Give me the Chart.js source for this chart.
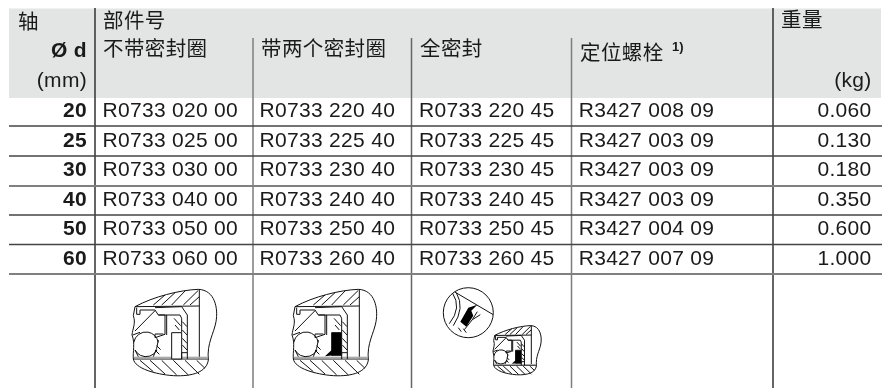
<!DOCTYPE html>
<html>
<head>
<meta charset="utf-8">
<script src="https://cdn.jsdelivr.net/npm/chart.js@4"></script>
<style>
    html, body { margin: 0; padding: 0; background: #fff; }
    canvas { display: block; }
</style>
</head>
<body>
<canvas id="chart" width="882" height="388"></canvas>
<script>
// Table contents
const shaftSizes = ['20', '25', '30', '40', '50', '60'];
const plainParts = ['R0733 020 00', 'R0733 025 00', 'R0733 030 00', 'R0733 040 00', 'R0733 050 00', 'R0733 060 00'];
const twoSealParts = ['R0733 220 40', 'R0733 225 40', 'R0733 230 40', 'R0733 240 40', 'R0733 250 40', 'R0733 260 40'];
const fullSealParts = ['R0733 220 45', 'R0733 225 45', 'R0733 230 45', 'R0733 240 45', 'R0733 250 45', 'R0733 260 45'];
const screwParts = ['R3427 008 09', 'R3427 003 09', 'R3427 003 09', 'R3427 003 09', 'R3427 004 09', 'R3427 007 09'];
const weights = ['0.060', '0.130', '0.180', '0.350', '0.600', '1.000'];

const FONT_LATIN = '"Liberation Sans", Arial, sans-serif';
const FONT_CJK = '"Noto Sans CJK SC", sans-serif';
const DARK = '#333333';
const GREY = '#7d7d7d';

// Axis units are page pixels, so layout can be read straight off the scales
const colX = [102.5, 259.6, 419, 578.7];
const headX = [103, 261, 420, 580];
const rowY = [111.5, 141.5, 170.5, 200.5, 229.5, 259.5];

function rule(x1, y1, x2, y2, color, width) {
    return {
        type: 'scatter', showLine: true, pointRadius: 0,
        data: [{ x: x1, y: y1 }, { x: x2, y: y2 }],
        borderColor: color, borderWidth: width
    };
}

const datasets = [
    // grey header band
    {
        type: 'line', pointRadius: 0, borderWidth: 0,
        data: [{ x: 9, y: 98 }, { x: 881, y: 98 }],
        fill: { value: 8.5 }, backgroundColor: '#e3e4e4', order: 5
    },
    rule(9, 126, 882, 126, '#444444', 1.5),
    rule(9, 156, 882, 156, '#444444', 1.5),
    rule(9, 186, 882, 186, '#808080', 2),
    rule(9, 215, 882, 215, '#444444', 1.5),
    rule(9, 244.5, 882, 244.5, '#444444', 1.5),
    rule(9, 274, 882, 274, '#808080', 2),
    rule(95, 8, 95, 388, DARK, 1.5),
    rule(253, 38, 253, 388, GREY, 1.5),
    rule(411.5, 38, 411.5, 388, '#666666', 1.5),
    rule(571.5, 38, 571.5, 388, GREY, 1.5),
    rule(773, 8, 773, 388, DARK, 1.5)
];

function drawText(chart, text, x, y, opts) {
    const ctx = chart.ctx;
    const o = opts || {};
    const spacing = o.spacing === undefined ? 0.3 : o.spacing;
    ctx.save();
    ctx.font = (o.bold ? 'bold ' : '') + (o.size || 21) + 'px ' + (o.cjk ? FONT_CJK : FONT_LATIN);
    ctx.letterSpacing = spacing + 'px';
    ctx.fillStyle = o.color || '#1a1a1a';
    ctx.textAlign = o.right ? 'right' : 'left';
    ctx.textBaseline = 'middle';
    ctx.fillText(text, chart.scales.x.getPixelForValue(x), chart.scales.y.getPixelForValue(y));
    ctx.restore();
}

// Cross-section sketch, in units of a third of a pixel from its own origin
function drawBearing(ctx, ox, oy, scale, blackSeal) {
    ctx.save();
    ctx.translate(ox, oy);
    ctx.scale(scale / 3, scale / 3);
    ctx.strokeStyle = '#111';
    ctx.lineWidth = 3 / scale;
    ctx.lineJoin = 'round';

    const line = pts => {
        ctx.beginPath();
        pts.forEach((p, i) => i ? ctx.lineTo(p[0], p[1]) : ctx.moveTo(p[0], p[1]));
        ctx.stroke();
    };

    // outer break outline
    ctx.beginPath();
    ctx.moveTo(135, 155);
    ctx.bezierCurveTo(190, 125, 270, 105, 325, 103);
    ctx.bezierCurveTo(375, 105, 385, 160, 378, 200);
    ctx.bezierCurveTo(372, 235, 350, 265, 355, 315);
    ctx.bezierCurveTo(350, 350, 310, 365, 250, 362);
    ctx.bezierCurveTo(195, 358, 135, 340, 130, 312);
    ctx.bezierCurveTo(128, 290, 136, 265, 126, 240);
    ctx.bezierCurveTo(128, 220, 138, 205, 130, 182);
    ctx.lineTo(135, 155);
    ctx.stroke();

    // housing, shaft and end walls
    line([[135, 155], [328, 153]]);
    line([[328, 104], [328, 312]]);
    line([[130, 312], [355, 312]]);
    ctx.fillStyle = '#aaa';
    ctx.fillRect(132, 305, 222, 6);

    // hatching, top
    [[190, 150, 225, 120], [215, 150, 255, 113], [245, 150, 285, 108], [280, 150, 325, 106], [300, 150, 328, 125]].forEach(l => line([[l[0], l[1]], [l[2], l[3]]]));
    // hatching, bottom
    [[150, 316, 190, 350], [180, 316, 225, 357], [215, 316, 260, 360], [250, 316, 295, 360], [285, 316, 328, 358], [320, 316, 345, 340]].forEach(l => line([[l[0], l[1]], [l[2], l[3]]]));

    // ball, only the parts that show between the races
    ctx.beginPath();
    ctx.arc(168, 268, 37, Math.PI * 1.05, Math.PI * 1.95);
    ctx.stroke();
    ctx.beginPath();
    ctx.arc(168, 268, 37, Math.PI * 0.15, Math.PI * 0.85);
    ctx.stroke();

    // outer race
    line([[140, 158], [140, 178], [150, 178], [150, 165], [195, 165], [205, 180], [225, 180], [225, 238], [195, 248], [195, 237], [220, 237]]);
    line([[230, 180], [230, 240]]);
    line([[135, 228], [195, 167]]);
    line([[195, 158], [275, 155], [292, 180], [292, 312]]);
    line([[205, 180], [270, 180], [275, 190], [275, 233]]);

    // inner race
    line([[128, 240], [150, 232]]);
    line([[205, 255], [200, 280], [190, 305]]);
    line([[135, 285], [145, 305]]);
    [[195, 285, 208, 298], [200, 272, 212, 284]].forEach(l => line([[l[0], l[1]], [l[2], l[3]]]));

    // seal housing hatching
    [[277, 200, 291, 215], [277, 225, 291, 240], [277, 250, 291, 265], [277, 270, 291, 285], [252, 190, 272, 212], [255, 210, 268, 225]].forEach(l => line([[l[0], l[1]], [l[2], l[3]]]));

    // seal
    ctx.fillStyle = blackSeal ? '#000' : '#fff';
    ctx.fillRect(245, 233, 30, blackSeal ? 68 : 79);
    ctx.strokeRect(245, 233, 30, blackSeal ? 68 : 79);
    line([[275, 293], [292, 293]]);
    line([[275, 293], [275, 312]]);
    if (blackSeal) {
        ctx.beginPath();
        ctx.moveTo(225, 304);
        ctx.lineTo(245, 285);
        ctx.lineTo(250, 301);
        ctx.closePath();
        ctx.fill();
    }
    ctx.restore();
}

// Enlarged detail circle above the full-seal sketch
function drawDetail(ctx, cx, cy, r) {
    ctx.save();
    ctx.strokeStyle = '#111';
    ctx.lineWidth = 1;
    ctx.beginPath();
    ctx.arc(cx, cy, r, 0, Math.PI * 2);
    ctx.stroke();
    ctx.clip();
    ctx.beginPath();
    ctx.moveTo(cx - 14, cy - 21);
    ctx.lineTo(cx + 25, cy + 2);
    ctx.moveTo(cx - 12, cy - 20);
    ctx.quadraticCurveTo(cx - 3, cy - 5, cx - 15, cy + 13);
    ctx.moveTo(cx - 16, cy - 20);
    ctx.quadraticCurveTo(cx - 6, cy - 5, cx - 19, cy + 11);
    ctx.moveTo(cx + 9, cy - 1);
    ctx.lineTo(cx + 4, cy + 7);
    ctx.lineTo(cx + 12, cy + 2);
    ctx.moveTo(cx + 4, cy + 7);
    ctx.lineTo(cx - 4, cy + 17);
    ctx.moveTo(cx - 10, cy + 15);
    ctx.lineTo(cx - 7, cy + 19);
    ctx.moveTo(cx - 5, cy + 16);
    ctx.lineTo(cx - 2, cy + 20);
    ctx.stroke();
    // black seal lip
    ctx.fillStyle = '#000';
    ctx.beginPath();
    ctx.moveTo(cx + 9, cy - 8);
    ctx.lineTo(cx, cy - 5);
    ctx.lineTo(cx - 8, cy + 9);
    ctx.lineTo(cx - 2, cy + 14);
    ctx.lineTo(cx + 5, cy + 3);
    ctx.lineTo(cx + 3, cy - 2);
    ctx.closePath();
    ctx.fill();
    ctx.restore();
}

const tablePlugin = {
    id: 'tableText',
    afterDatasetsDraw(chart) {
        const { x, y } = chart.scales;
        const cjk = { cjk: true, size: 20.5, spacing: 0.4 };

        // header
        drawText(chart, '轴', 18, 21, cjk);
        drawText(chart, '部件号', headX[0], 20, cjk);
        drawText(chart, '重量', 781, 19.5, cjk);
        drawText(chart, 'Ø d', 87, 51, { bold: true, right: true });
        drawText(chart, '(mm)', 87, 81, { right: true });
        drawText(chart, '(kg)', 871.5, 81, { right: true });
        drawText(chart, '不带密封圈', headX[0], 48.5, cjk);
        drawText(chart, '带两个密封圈', headX[1], 48.5, cjk);
        drawText(chart, '全密封', headX[2], 48.5, cjk);
        drawText(chart, '定位螺栓', headX[3], 52, cjk);
        drawText(chart, '1)', 672, 47, { bold: true, size: 13, spacing: 0 });

        // rows
        shaftSizes.forEach((size, i) => {
            drawText(chart, size, 87, rowY[i], { bold: true, right: true });
            drawText(chart, plainParts[i], colX[0], rowY[i]);
            drawText(chart, twoSealParts[i], colX[1], rowY[i]);
            drawText(chart, fullSealParts[i], colX[2], rowY[i]);
            drawText(chart, screwParts[i], colX[3], rowY[i]);
            drawText(chart, weights[i], 871.5, rowY[i], { right: true });
        });

        // sketches in the last row
        const ctx = chart.ctx;
        drawBearing(ctx, x.getPixelForValue(90), y.getPixelForValue(255), 1, false);
        drawBearing(ctx, x.getPixelForValue(250), y.getPixelForValue(255), 1, true);
        drawBearing(ctx, x.getPixelForValue(469), y.getPixelForValue(306), 0.57, true);
        drawDetail(ctx, x.getPixelForValue(468.3), y.getPixelForValue(312.7), 25);
    }
};

new Chart(document.getElementById('chart'), {
    type: 'scatter',
    data: { datasets: datasets },
    plugins: [tablePlugin],
    options: {
        responsive: false,
        animation: false,
        layout: { padding: 0 },
        plugins: { legend: { display: false }, tooltip: { enabled: false } },
        scales: {
            x: { type: 'linear', display: false, min: 0, max: 882 },
            y: { type: 'linear', display: false, min: 0, max: 388, reverse: true }
        }
    }
});
</script>
</body>
</html>
